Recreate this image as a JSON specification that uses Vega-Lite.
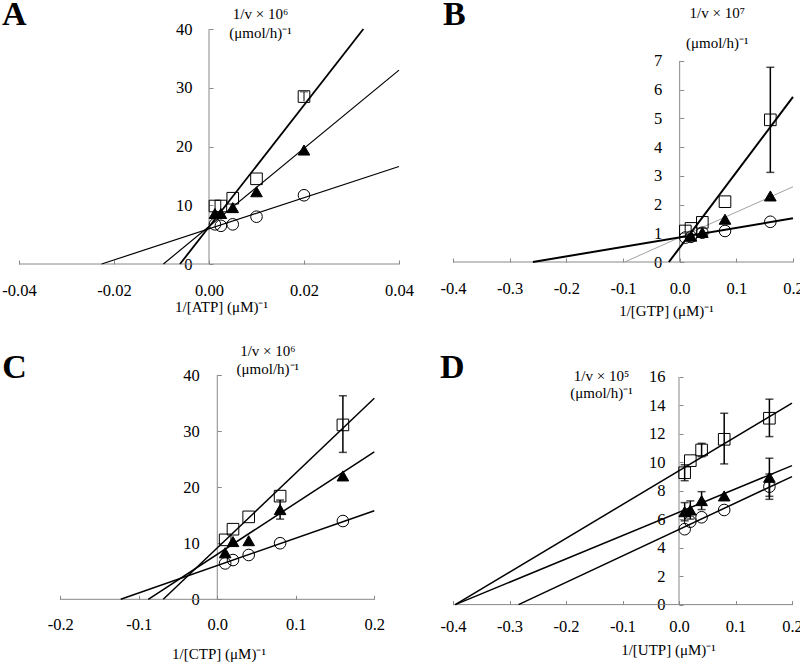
{
  "$schema": "https://vega.github.io/schema/vega-lite/v6.json",
  "background": "white",
  "autosize": {"type": "none"},
  "padding": {"left": 19, "top": 29, "right": 781, "bottom": 635},
  "bounds": "flush",
  "columns": 2,
  "align": "each",
  "spacing": {"row": 111, "column": 54},
  "config": {
    "view": {"stroke": null},
    "axis": {
      "grid": false, "domain": false, "ticks": true, "tickSize": -4, "tickColor": "#888", "tickWidth": 1,
      "labelFont": "Liberation Serif", "labelFontSize": 16.5, "labelColor": "black",
      "titleFont": "Liberation Serif", "titleFontSize": 15, "titleFontWeight": "normal", "titleColor": "black",
      "labelFlush": false, "labelOverlap": false, "labelBound": false
    },
    "axisX": {"labelBaseline": "alphabetic", "titleAlign": "center", "titleBaseline": "alphabetic", "titleAngle": 0},
    "axisY": {"titleAlign": "center", "titleBaseline": "alphabetic", "titleAngle": 0}
  },
  "concat": [
    {
      "width": 380, "height": 235,
      "encoding": {
        "x": {"field": "x", "type": "quantitative", "scale": {"domain": [-0.04, 0.04], "nice": false, "zero": false},
          "axis": {"values": [-0.04, -0.02, 0, 0.02, 0.04], "format": ".2f", "labelExpr": "replace(datum.label, '−', '-')", "labelPadding": 35,
            "labelFont": "Liberation Serif", "labelFontSize": 16.5,
            "title": "1/[ATP] (μM)⁻¹", "titleX": 202, "titleY": 47}},
        "y": {"field": "y", "type": "quantitative", "scale": {"domain": [0, 40], "nice": false, "zero": false},
          "axis": {"values": [0, 10, 20, 30, 40], "offset": -190, "labelPadding": 21, "labelFont": "Liberation Serif", "labelFontSize": 16.5,
            "title": ["1/v × 10⁶", "(μmol/h)⁻¹"], "titleX": 51, "titleY": -11, "titleLineHeight": 19}}
      },
      "layer": [
        {"data": {"values": [{"x": -0.04, "x2": 0.04, "y": 0, "y2": 0}, {"x": 0, "x2": 0, "y": 0, "y2": 40}]},
          "mark": {"type": "rule", "color": "#888", "strokeWidth": 1},
          "encoding": {"x2": {"field": "x2"}, "y2": {"field": "y2"}}},
        {"data": {"values": [
            {"series": "circle", "x": -0.0226, "y": 0}, {"series": "circle", "x": 0.04, "y": 16.6},
            {"series": "triangle", "x": -0.0096, "y": 0}, {"series": "triangle", "x": 0.04, "y": 33.0}]},
          "mark": {"type": "line", "color": "black", "strokeWidth": 1.2},
          "encoding": {"detail": {"field": "series"}}},
        {"data": {"values": [
            {"series": "square", "x": -0.0061, "y": 0}, {"series": "square", "x": 0.0325, "y": 40}]},
          "mark": {"type": "line", "color": "black", "strokeWidth": 1.8},
          "encoding": {"detail": {"field": "series"}}},
        {"data": {"values": [{"x": 0.02, "lo": 27.7, "hi": 29.3}]},
          "mark": {"type": "rule", "color": "black", "strokeWidth": 1},
          "encoding": {"y": {"field": "lo", "type": "quantitative"}, "y2": {"field": "hi"}}},
        {"data": {"values": [{"x": 0.02, "lo": 27.7, "hi": 29.3}]},
          "mark": {"type": "tick", "orient": "horizontal", "size": 8, "thickness": 1, "color": "black"},
          "encoding": {"y": {"field": "hi", "type": "quantitative"}}},
        {"data": {"values": [
            {"series": "circle", "x": 0.00125, "y": 6.75}, {"series": "circle", "x": 0.0025, "y": 6.5}, {"series": "circle", "x": 0.005, "y": 6.75}, {"series": "circle", "x": 0.01, "y": 8.05}, {"series": "circle", "x": 0.02, "y": 11.7},
            {"series": "triangle", "x": 0.00125, "y": 8.6}, {"series": "triangle", "x": 0.0025, "y": 8.6}, {"series": "triangle", "x": 0.005, "y": 9.6}, {"series": "triangle", "x": 0.01, "y": 12.3}, {"series": "triangle", "x": 0.02, "y": 19.4},
            {"series": "square", "x": 0.00125, "y": 9.87}, {"series": "square", "x": 0.0025, "y": 9.87}, {"series": "square", "x": 0.005, "y": 11.2}, {"series": "square", "x": 0.01, "y": 14.5}, {"series": "square", "x": 0.02, "y": 28.5}]},
          "mark": {"type": "point", "size": 135, "strokeWidth": 1, "opacity": 1, "stroke": "black"},
          "encoding": {
            "shape": {"field": "series", "type": "nominal", "scale": {"domain": ["circle", "triangle", "square"], "range": ["circle", "triangle-up", "square"]}, "legend": null},
            "fill": {"field": "series", "type": "nominal", "scale": {"domain": ["circle", "triangle", "square"], "range": ["transparent", "black", "transparent"]}, "legend": null}}},
        {"data": {"values": [{"label": "A", "x": -0.04, "y": 40}]},
          "mark": {"type": "text", "font": "Liberation Serif", "fontWeight": "bold", "fontSize": 34, "align": "left", "baseline": "alphabetic", "dx": -17, "dy": -4, "color": "black"},
          "encoding": {"text": {"field": "label"}}}
      ]
    },
    {
      "width": 340, "height": 233,
      "encoding": {
        "x": {"field": "x", "type": "quantitative", "scale": {"domain": [-0.4, 0.2], "nice": false, "zero": false},
          "axis": {"values": [-0.4, -0.3, -0.2, -0.1, 0, 0.1, 0.2], "format": ".1f", "labelExpr": "replace(datum.label, '−', '-')", "labelPadding": 35,
            "labelFont": "Liberation Serif", "labelFontSize": 16.5,
            "title": "1/[GTP] (μM)⁻¹", "titleX": 213, "titleY": 53}},
        "y": {"field": "y", "type": "quantitative", "scale": {"domain": [0, 8.113], "nice": false, "zero": false},
          "axis": {"values": [0, 1, 2, 3, 4, 5, 6, 7], "offset": -226.7, "labelPadding": 22, "labelFont": "Liberation Serif", "labelFontSize": 16.5,
            "title": ["1/v × 10⁷", "(μmol/h)⁻¹"], "titleX": 37, "titleY": -12, "titleLineHeight": 30}}
      },
      "layer": [
        {"data": {"values": [{"x": -0.4, "x2": 0.2, "y": 0, "y2": 0}, {"x": 0, "x2": 0, "y": 0, "y2": 7}]},
          "mark": {"type": "rule", "color": "#888", "strokeWidth": 1},
          "encoding": {"x2": {"field": "x2"}, "y2": {"field": "y2"}}},
        {"data": {"values": [
            {"series": "triangle", "x": -0.097, "y": 0}, {"series": "triangle", "x": 0.2, "y": 2.62}]},
          "mark": {"type": "line", "color": "#8a8a8a", "strokeWidth": 0.8},
          "encoding": {"detail": {"field": "series"}}},
        {"data": {"values": [
            {"series": "circle", "x": -0.259, "y": 0}, {"series": "circle", "x": 0.2, "y": 1.52},
            {"series": "square", "x": -0.019, "y": 0}, {"series": "square", "x": 0.2, "y": 5.75}]},
          "mark": {"type": "line", "color": "black", "strokeWidth": 2},
          "encoding": {"detail": {"field": "series"}}},
        {"data": {"values": [{"x": 0.16, "lo": 3.12, "hi": 6.78}]},
          "mark": {"type": "rule", "color": "black", "strokeWidth": 1.5},
          "encoding": {"y": {"field": "lo", "type": "quantitative"}, "y2": {"field": "hi"}}},
        {"data": {"values": [{"x": 0.16, "lo": 3.12, "hi": 6.78}]},
          "mark": {"type": "tick", "orient": "horizontal", "size": 8, "thickness": 1.5, "color": "black"},
          "encoding": {"y": {"field": "lo", "type": "quantitative"}}},
        {"data": {"values": [{"x": 0.16, "lo": 3.12, "hi": 6.78}]},
          "mark": {"type": "tick", "orient": "horizontal", "size": 8, "thickness": 1.5, "color": "black"},
          "encoding": {"y": {"field": "hi", "type": "quantitative"}}},
        {"data": {"values": [
            {"series": "circle", "x": 0.01, "y": 0.85}, {"series": "circle", "x": 0.02, "y": 0.88}, {"series": "circle", "x": 0.04, "y": 1.02}, {"series": "circle", "x": 0.08, "y": 1.08}, {"series": "circle", "x": 0.16, "y": 1.4},
            {"series": "triangle", "x": 0.02, "y": 0.9}, {"series": "triangle", "x": 0.04, "y": 1.03}, {"series": "triangle", "x": 0.08, "y": 1.49}, {"series": "triangle", "x": 0.16, "y": 2.3},
            {"series": "square", "x": 0.01, "y": 1.08}, {"series": "square", "x": 0.02, "y": 1.17}, {"series": "square", "x": 0.04, "y": 1.38}, {"series": "square", "x": 0.08, "y": 2.1}, {"series": "square", "x": 0.16, "y": 4.95}]},
          "mark": {"type": "point", "size": 135, "strokeWidth": 1, "opacity": 1, "stroke": "black"},
          "encoding": {
            "shape": {"field": "series", "type": "nominal", "scale": {"domain": ["circle", "triangle", "square"], "range": ["circle", "triangle-up", "square"]}, "legend": null},
            "fill": {"field": "series", "type": "nominal", "scale": {"domain": ["circle", "triangle", "square"], "range": ["transparent", "black", "transparent"]}, "legend": null}}},
        {"data": {"values": [{"label": "B", "x": -0.4, "y": 7}]},
          "mark": {"type": "text", "font": "Liberation Serif", "fontWeight": "bold", "fontSize": 34, "align": "left", "baseline": "alphabetic", "dx": -10, "dy": -36, "color": "black"},
          "encoding": {"text": {"field": "label"}}}
      ]
    },
    {
      "width": 355.3, "height": 224.3,
      "encoding": {
        "x": {"field": "x", "type": "quantitative", "scale": {"domain": [-0.2526, 0.2], "nice": false, "zero": false},
          "axis": {"values": [-0.2, -0.1, 0, 0.1, 0.2], "format": ".1f", "labelExpr": "replace(datum.label, '−', '-')", "labelPadding": 33.7,
            "labelFont": "Liberation Serif", "labelFontSize": 16.5,
            "title": "1/[CTP] (μM)⁻¹", "titleX": 199.5, "titleY": 58.7}},
        "y": {"field": "y", "type": "quantitative", "scale": {"domain": [0, 40], "nice": false, "zero": false},
          "axis": {"values": [0, 10, 20, 30, 40], "offset": -198.3, "labelPadding": 22, "labelFont": "Liberation Serif", "labelFontSize": 16.5,
            "title": ["1/v × 10⁶", "(μmol/h)⁻¹"], "titleX": 50, "titleY": -20, "titleLineHeight": 18}}
      },
      "layer": [
        {"data": {"values": [{"x": -0.2, "x2": 0.2, "y": 0, "y2": 0}, {"x": 0, "x2": 0, "y": 0, "y2": 40}]},
          "mark": {"type": "rule", "color": "#888", "strokeWidth": 1},
          "encoding": {"x2": {"field": "x2"}, "y2": {"field": "y2"}}},
        {"data": {"values": [
            {"series": "circle", "x": -0.123, "y": 0}, {"series": "circle", "x": 0.2, "y": 15.8},
            {"series": "triangle", "x": -0.0879, "y": 0}, {"series": "triangle", "x": 0.2, "y": 26.3},
            {"series": "square", "x": -0.0688, "y": 0}, {"series": "square", "x": 0.2, "y": 35.85}]},
          "mark": {"type": "line", "color": "black", "strokeWidth": 1.5},
          "encoding": {"detail": {"field": "series"}}},
        {"data": {"values": [{"x": 0.16, "lo": 26.2, "hi": 36.3}, {"x": 0.08, "lo": 14.3, "hi": 17.7}]},
          "mark": {"type": "rule", "color": "black", "strokeWidth": 1.5},
          "encoding": {"y": {"field": "lo", "type": "quantitative"}, "y2": {"field": "hi"}}},
        {"data": {"values": [{"x": 0.16, "lo": 26.2, "hi": 36.3}, {"x": 0.08, "lo": 14.3, "hi": 17.7}]},
          "mark": {"type": "tick", "orient": "horizontal", "size": 8, "thickness": 1.5, "color": "black"},
          "encoding": {"y": {"field": "lo", "type": "quantitative"}}},
        {"data": {"values": [{"x": 0.16, "lo": 26.2, "hi": 36.3}, {"x": 0.08, "lo": 14.3, "hi": 17.7}]},
          "mark": {"type": "tick", "orient": "horizontal", "size": 8, "thickness": 1.5, "color": "black"},
          "encoding": {"y": {"field": "hi", "type": "quantitative"}}},
        {"data": {"values": [
            {"series": "circle", "x": 0.01, "y": 6.4}, {"series": "circle", "x": 0.02, "y": 7.0}, {"series": "circle", "x": 0.04, "y": 7.9}, {"series": "circle", "x": 0.08, "y": 10.0}, {"series": "circle", "x": 0.16, "y": 13.96},
            {"series": "triangle", "x": 0.01, "y": 8.3}, {"series": "triangle", "x": 0.02, "y": 10.3}, {"series": "triangle", "x": 0.04, "y": 10.45}, {"series": "triangle", "x": 0.08, "y": 16.0}, {"series": "triangle", "x": 0.16, "y": 22.0},
            {"series": "square", "x": 0.01, "y": 10.6}, {"series": "square", "x": 0.02, "y": 12.5}, {"series": "square", "x": 0.04, "y": 14.7}, {"series": "square", "x": 0.08, "y": 18.4}, {"series": "square", "x": 0.16, "y": 31.1}]},
          "mark": {"type": "point", "size": 135, "strokeWidth": 1, "opacity": 1, "stroke": "black"},
          "encoding": {
            "shape": {"field": "series", "type": "nominal", "scale": {"domain": ["circle", "triangle", "square"], "range": ["circle", "triangle-up", "square"]}, "legend": null},
            "fill": {"field": "series", "type": "nominal", "scale": {"domain": ["circle", "triangle", "square"], "range": ["transparent", "black", "transparent"]}, "legend": null}}},
        {"data": {"values": [{"label": "C", "x": -0.2, "y": 40}]},
          "mark": {"type": "text", "font": "Liberation Serif", "fontWeight": "bold", "fontSize": 34, "align": "left", "baseline": "alphabetic", "dx": -58, "dy": 3, "color": "black"},
          "encoding": {"text": {"field": "label"}}}
      ]
    },
    {
      "width": 339, "height": 229.6,
      "encoding": {
        "x": {"field": "x", "type": "quantitative", "scale": {"domain": [-0.4, 0.2], "nice": false, "zero": false},
          "axis": {"values": [-0.4, -0.3, -0.2, -0.1, 0, 0.1, 0.2], "format": ".1f", "labelExpr": "replace(datum.label, '−', '-')", "labelPadding": 30.4,
            "labelFont": "Liberation Serif", "labelFontSize": 16.5,
            "title": "1/[UTP] (μM)⁻¹", "titleX": 215, "titleY": 49.4}},
        "y": {"field": "y", "type": "quantitative", "scale": {"domain": [0, 16.14], "nice": false, "zero": false},
          "axis": {"values": [0, 2, 4, 6, 8, 10, 12, 14, 16], "offset": -226, "labelPadding": 18, "labelFont": "Liberation Serif", "labelFontSize": 16.5,
            "title": ["1/v × 10⁵", "(μmol/h)⁻¹"], "titleX": -78, "titleY": 5, "titleLineHeight": 17}}
      },
      "layer": [
        {"data": {"values": [{"x": -0.4, "x2": 0.2, "y": 0, "y2": 0}, {"x": 0, "x2": 0, "y": 0, "y2": 16}]},
          "mark": {"type": "rule", "color": "#888", "strokeWidth": 1},
          "encoding": {"x2": {"field": "x2"}, "y2": {"field": "y2"}}},
        {"data": {"values": [
            {"series": "circle", "x": -0.284, "y": 0}, {"series": "circle", "x": 0.2, "y": 9.0},
            {"series": "triangle", "x": -0.396, "y": 0}, {"series": "triangle", "x": 0.2, "y": 9.77},
            {"series": "square", "x": -0.396, "y": 0}, {"series": "square", "x": 0.2, "y": 14.16}]},
          "mark": {"type": "line", "color": "black", "strokeWidth": 1.5},
          "encoding": {"detail": {"field": "series"}}},
        {"data": {"values": [
            {"x": 0.01, "lo": 8.71, "hi": 9.83}, {"x": 0.04, "lo": 10.4, "hi": 11.34}, {"x": 0.08, "lo": 9.89, "hi": 13.45}, {"x": 0.16, "lo": 11.81, "hi": 14.44},
            {"x": 0.01, "lo": 5.89, "hi": 7.17}, {"x": 0.02, "lo": 6.01, "hi": 7.29}, {"x": 0.04, "lo": 6.68, "hi": 7.94}, {"x": 0.16, "lo": 7.61, "hi": 10.29},
            {"x": 0.16, "lo": 7.4, "hi": 9.18}]},
          "mark": {"type": "rule", "color": "black", "strokeWidth": 1.5},
          "encoding": {"y": {"field": "lo", "type": "quantitative"}, "y2": {"field": "hi"}}},
        {"data": {"values": [
            {"x": 0.01, "lo": 8.71, "hi": 9.83}, {"x": 0.04, "lo": 10.4, "hi": 11.34}, {"x": 0.08, "lo": 9.89, "hi": 13.45}, {"x": 0.16, "lo": 11.81, "hi": 14.44},
            {"x": 0.01, "lo": 5.89, "hi": 7.17}, {"x": 0.02, "lo": 6.01, "hi": 7.29}, {"x": 0.04, "lo": 6.68, "hi": 7.94}, {"x": 0.16, "lo": 7.61, "hi": 10.29},
            {"x": 0.16, "lo": 7.4, "hi": 9.18}]},
          "mark": {"type": "tick", "orient": "horizontal", "size": 8, "thickness": 1.5, "color": "black"},
          "encoding": {"y": {"field": "lo", "type": "quantitative"}}},
        {"data": {"values": [
            {"x": 0.01, "lo": 8.71, "hi": 9.83}, {"x": 0.04, "lo": 10.4, "hi": 11.34}, {"x": 0.08, "lo": 9.89, "hi": 13.45}, {"x": 0.16, "lo": 11.81, "hi": 14.44},
            {"x": 0.01, "lo": 5.89, "hi": 7.17}, {"x": 0.02, "lo": 6.01, "hi": 7.29}, {"x": 0.04, "lo": 6.68, "hi": 7.94}, {"x": 0.16, "lo": 7.61, "hi": 10.29},
            {"x": 0.16, "lo": 7.4, "hi": 9.18}]},
          "mark": {"type": "tick", "orient": "horizontal", "size": 8, "thickness": 1.5, "color": "black"},
          "encoding": {"y": {"field": "hi", "type": "quantitative"}}},
        {"data": {"values": [
            {"series": "circle", "x": 0.01, "y": 5.3}, {"series": "circle", "x": 0.02, "y": 5.83}, {"series": "circle", "x": 0.04, "y": 6.14}, {"series": "circle", "x": 0.08, "y": 6.65}, {"series": "circle", "x": 0.16, "y": 8.29},
            {"series": "triangle", "x": 0.01, "y": 6.53}, {"series": "triangle", "x": 0.02, "y": 6.65}, {"series": "triangle", "x": 0.04, "y": 7.31}, {"series": "triangle", "x": 0.08, "y": 7.64}, {"series": "triangle", "x": 0.16, "y": 8.95},
            {"series": "square", "x": 0.01, "y": 9.27}, {"series": "square", "x": 0.02, "y": 10.12}, {"series": "square", "x": 0.04, "y": 10.87}, {"series": "square", "x": 0.08, "y": 11.62}, {"series": "square", "x": 0.16, "y": 13.1}]},
          "mark": {"type": "point", "size": 135, "strokeWidth": 1, "opacity": 1, "stroke": "black"},
          "encoding": {
            "shape": {"field": "series", "type": "nominal", "scale": {"domain": ["circle", "triangle", "square"], "range": ["circle", "triangle-up", "square"]}, "legend": null},
            "fill": {"field": "series", "type": "nominal", "scale": {"domain": ["circle", "triangle", "square"], "range": ["transparent", "black", "transparent"]}, "legend": null}}},
        {"data": {"values": [{"label": "D", "x": -0.4, "y": 16}]},
          "mark": {"type": "text", "font": "Liberation Serif", "fontWeight": "bold", "fontSize": 34, "align": "left", "baseline": "alphabetic", "dx": -13, "dy": 1, "color": "black"},
          "encoding": {"text": {"field": "label"}}}
      ]
    }
  ]
}
